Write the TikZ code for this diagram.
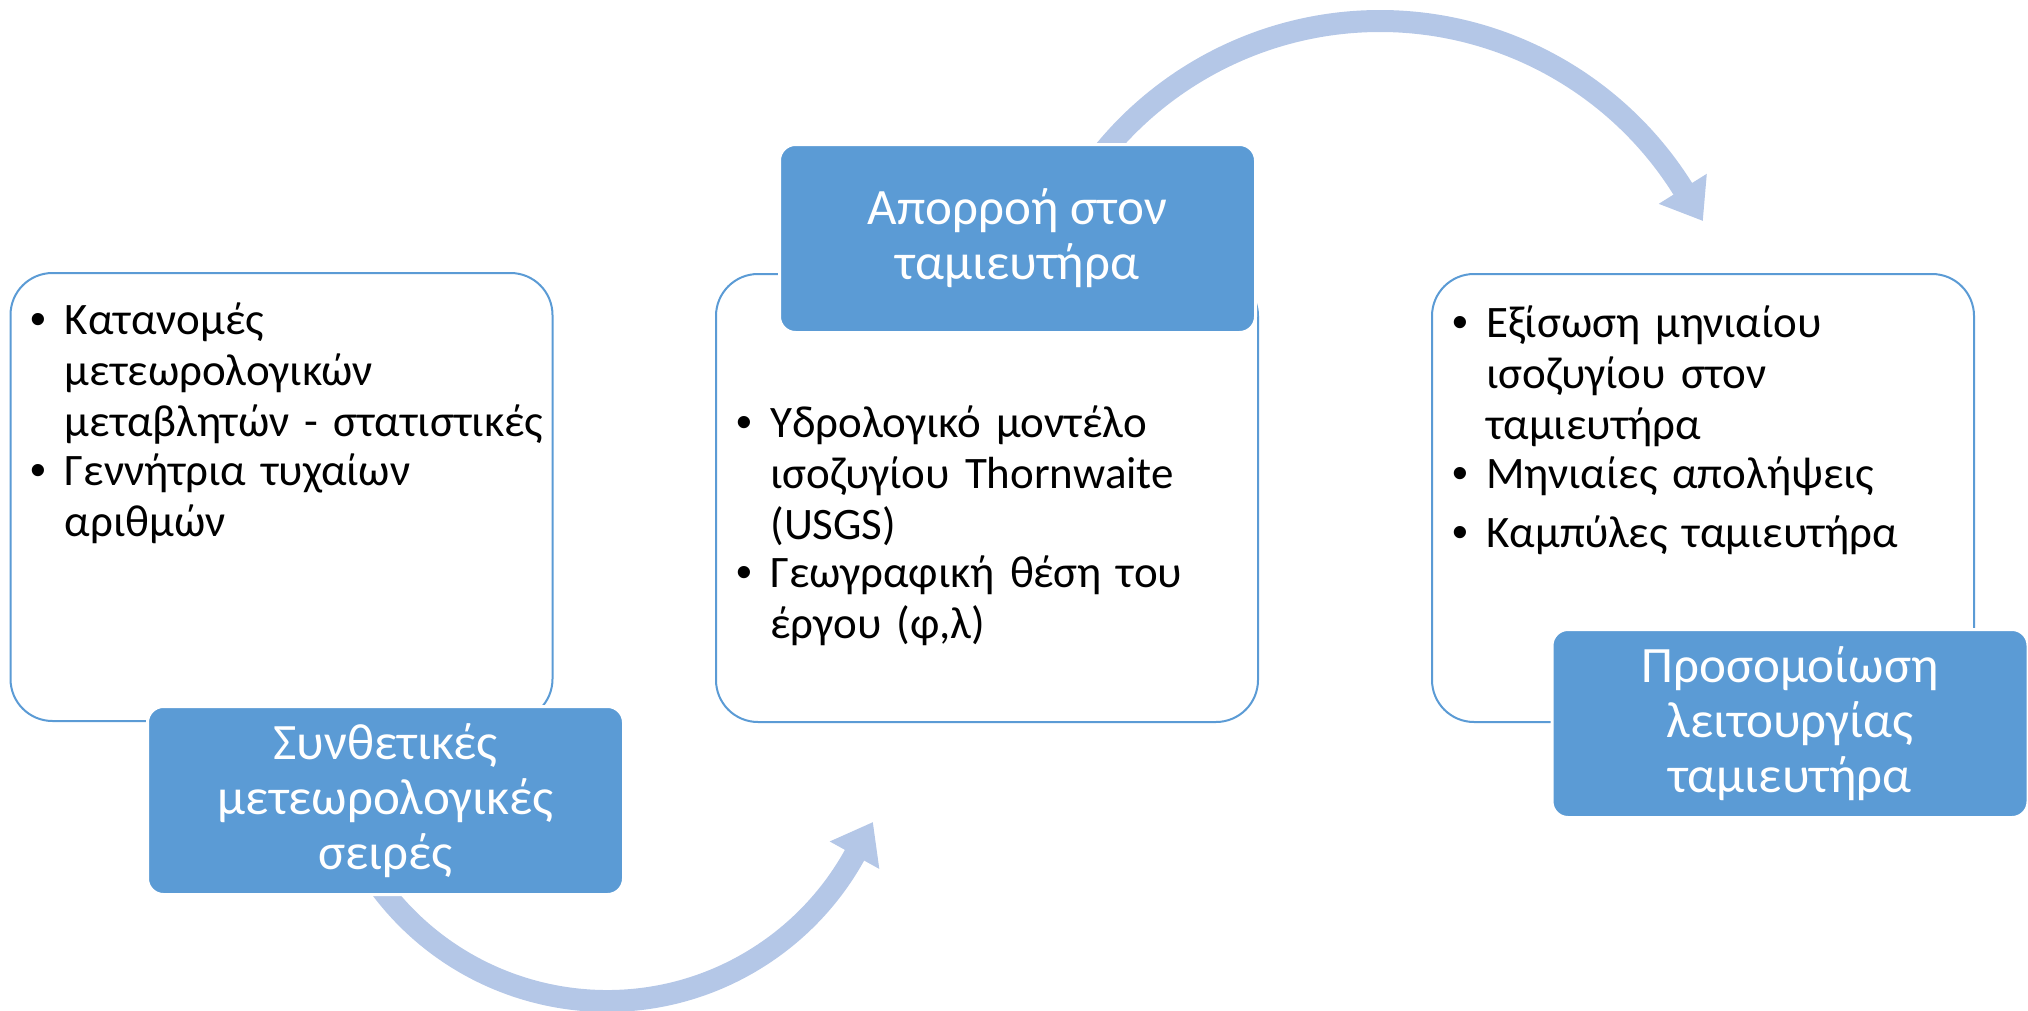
\documentclass[tikz,border=0pt]{standalone}
\usepackage{fontspec}
\setmainfont{Carlito}
\newfontfamily\bulletfont{Liberation Sans}
\usetikzlibrary{positioning,arrows.meta}
\definecolor{accent}{HTML}{5B9BD5}
\definecolor{arrowblue}{HTML}{B4C7E7}
\newcommand{\bpt}[1]{\par\noindent\makebox[17pt][l]{\bulletfont •}\parbox[t]{262pt}{\raggedright #1}\par}

\begin{document}
\begin{tikzpicture}[x=0.5pt,y=-0.5pt,
  panel/.style={draw=accent,line width=1pt,fill=white,rounded corners=21pt,
    minimum width=271pt,minimum height=224pt,inner sep=0pt,outer sep=0pt},
  header/.style={draw=white,line width=1.5pt,fill=accent,rounded corners=8pt,
    minimum width=238pt,minimum height=94pt,inner sep=0pt,text=white,align=center,
    font=\fontsize{25.5}{27.5}\selectfont},
  bullets/.style={anchor=north west,inner sep=0pt,text width=280pt,
    font=\fontsize{22.5}{25.5}\selectfont,execute at begin node={\parskip=4pt}},
  flow/.style={arrowblue,line width=11pt,-{Triangle[width=27pt,length=19pt]}}]
\useasboundingbox (0,0) rectangle (2028,1011);

\node[panel] (box1) at (281.5,497) {};
\node[panel] (box2) at (987,498) {};
\node[panel] (box3) at (1703,498) {};

\node[bullets,below right=1pt and 10pt of box1.north west] (txt1)
  {\bpt{Κατανομές\\ μετεωρολογικών\\ μεταβλητών - στατιστικές}%
   \bpt{Γεννήτρια τυχαίων\\ αριθμών}};
\node[bullets,below right=52pt and 10pt of box2.north west] (txt2)
  {\bpt{Υδρολογικό μοντέλο\\ ισοζυγίου Thornwaite\\ (USGS)}%
   \bpt{Γεωγραφική θέση του\\ έργου (φ,λ)}};
\node[bullets,below right=2pt and 10pt of box3.north west] (txt3)
  {\bpt{Εξίσωση μηνιαίου\\ ισοζυγίου στον\\ ταμιευτήρα}%
   \bpt{Μηνιαίες απολήψεις}%
   \bpt{Καμπύλες ταμιευτήρα}};

\coordinate (c1) at (607,718);
\coordinate (c2) at (1380,378);
\draw[flow] ([shift={(215:141.5pt)}]c1) arc[start angle=215,end angle=331,radius=141.5pt] -- ++(61:19pt);
\draw[flow] ([shift={(145:178.5pt)}]c2) arc[start angle=145,end angle=32,radius=178.5pt] -- ++(-58:19pt);

\node[header] (hd1) at (385.5,800.5) {Συνθετικές\\μετεωρολογικές\\σειρές};
\node[header] (hd2) at (1017.5,238.5) {Απορροή στον\\ταμιευτήρα};
\node[header] (hd3) at (1790,723.5) {Προσομοίωση\\λειτουργίας\\ταμιευτήρα};
\end{tikzpicture}
\end{document}
